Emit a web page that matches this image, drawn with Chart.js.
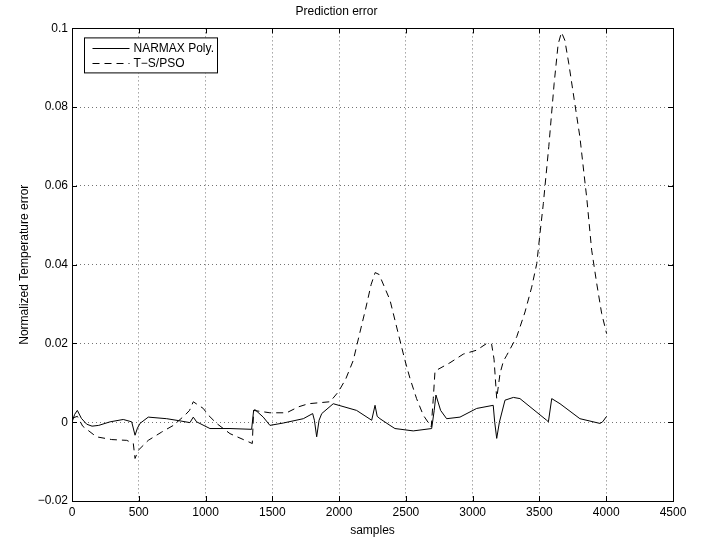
<!DOCTYPE html>
<html>
<head>
<meta charset="utf-8">
<script src="https://cdn.jsdelivr.net/npm/chart.js@4/dist/chart.umd.min.js"></script>
<style>
html, body { margin: 0; padding: 0; background: #fff; }
#wrap { width: 704px; height: 545px; }
</style>
</head>
<body>
<div id="wrap"><canvas id="chart"></canvas></div>
<script>
// tick values
const xTicks = [0, 500, 1000, 1500, 2000, 2500, 3000, 3500, 4000, 4500];
const yTicks = [-0.02, 0, 0.02, 0.04, 0.06, 0.08, 0.1];

// NARMAX Poly. (solid)
const narmaxX = [0, 20, 40, 70, 110, 150, 200, 285, 384, 447, 472, 490, 509, 571, 709, 800, 883, 908, 933,
  1033, 1183, 1345, 1360, 1370, 1432, 1482, 1582, 1732, 1802, 1815, 1832, 1850, 1870, 1956, 2131, 2244,
  2269, 2285, 2306, 2381, 2418, 2555, 2693, 2712, 2725, 2760, 2805, 2905, 3030, 3154, 3165, 3180, 3200,
  3242, 3305, 3354, 3554, 3567, 3592, 3654, 3803, 3953, 3973, 4003];
const narmaxY = [0, 0.002, 0.003, 0.001, -0.0005, -0.001, -0.0008, 0.0001, 0.0007, 0.0001, -0.0033, -0.0015,
  -0.0003, 0.0013, 0.0009, 0.0004, -0.0001, 0.0013, 0.0001, -0.0016, -0.0016, -0.0018, 0.003, 0.0032,
  0.0013, -0.0008, -0.0002, 0.0009, 0.0022, 0.0005, -0.0037, 0.0005, 0.0022, 0.0047, 0.003, 0.0005,
  0.0043, 0.0015, 0.0009, -0.0008, -0.0016, -0.0022, -0.0016, 0.003, 0.0069, 0.003, 0.0009, 0.0013,
  0.0035, 0.0043, 0, -0.0041, 0, 0.0056, 0.0063, 0.006, 0.0005, 0.0001, 0.006, 0.0047, 0.0009,
  -0.0003, 0.0001, 0.0015];

// T-S/PSO (dashed)
const tspsoX = [0, 40, 80, 183, 297, 410, 459, 472, 497, 571, 671, 759, 846, 880, 908, 983, 1021, 1083,
  1183, 1283, 1350, 1360, 1400, 1482, 1607, 1695, 1770, 1932, 1994, 2050, 2106, 2150, 2200, 2240, 2270,
  2300, 2381, 2443, 2493, 2531, 2580, 2630, 2690, 2705, 2718, 2830, 2930, 3030, 3105, 3142, 3160, 3180,
  3205, 3230, 3255, 3330, 3392, 3442, 3480, 3504, 3529, 3570, 3610, 3640, 3665, 3690, 3720, 3760,
  3803, 3828, 3854, 3891, 3929, 3966, 4003];
const tspsoY = [0.001, 0.0015, -0.001, -0.0037, -0.0044, -0.0046, -0.0054, -0.0092, -0.0071, -0.0046,
  -0.0025, -0.0008, 0.0018, 0.003, 0.0052, 0.0035, 0.0018, -0.0003, -0.0029, -0.0044, -0.0054, 0.003,
  0.0028, 0.0024, 0.0024, 0.0039, 0.0047, 0.0052, 0.0077, 0.011, 0.0157, 0.022, 0.029, 0.035, 0.038,
  0.0375, 0.031, 0.0225, 0.0157, 0.0111, 0.006, 0.0018, -0.0012, 0.006, 0.013, 0.0151, 0.0173, 0.0183,
  0.02, 0.0198, 0.016, 0.006, 0.0124, 0.0155, 0.017, 0.0217, 0.028, 0.0343, 0.0403, 0.0479, 0.0555,
  0.07, 0.086, 0.096, 0.099, 0.097, 0.091, 0.082, 0.0724, 0.0648, 0.057, 0.0437, 0.0352, 0.0276, 0.0225];

const FONT = 'Liberation Sans, Arial, Helvetica, sans-serif';

function toPoints(xs, ys) {
  return xs.map((x, i) => ({ x: x, y: ys[i] }));
}

function fmtY(v) {
  if (Math.abs(v) < 1e-9) return '0';
  const s = String(Math.round(v * 100) / 100);
  return s.replace('-', '\u2212');
}

// frame, inward ticks and legend box, drawn like the matlab axes
const axesBox = {
  id: 'axesBox',
  afterDatasetsDraw(chart) {
    const ctx = chart.ctx;
    const a = chart.chartArea;
    const xs = chart.scales.x, ys = chart.scales.y;
    ctx.save();
    ctx.strokeStyle = '#000';
    ctx.lineWidth = 1;
    ctx.setLineDash([]);
    ctx.strokeRect(Math.round(a.left) + 0.5, Math.round(a.top) + 0.5,
      Math.round(a.right - a.left), Math.round(a.bottom - a.top));
    const tl = 5;
    ctx.beginPath();
    xTicks.forEach(v => {
      const px = Math.round(xs.getPixelForValue(v)) + 0.5;
      ctx.moveTo(px, a.bottom); ctx.lineTo(px, a.bottom - tl);
      ctx.moveTo(px, a.top); ctx.lineTo(px, a.top + tl);
    });
    yTicks.forEach(v => {
      const py = Math.round(ys.getPixelForValue(v)) + 0.5;
      ctx.moveTo(a.left, py); ctx.lineTo(a.left + tl, py);
      ctx.moveTo(a.right, py); ctx.lineTo(a.right - tl, py);
    });
    ctx.stroke();

    // legend
    const items = chart.data.datasets;
    ctx.font = '12px ' + FONT;
    const textW = Math.max(...items.map(d => ctx.measureText(d.label).width));
    const bx = a.left + 12.5, by = a.top + 9.5;
    const lineW = 37, rowH = 15;
    const bw = Math.round(8 + lineW + 4 + textW + 4), bh = 35;
    ctx.fillStyle = '#fff';
    ctx.fillRect(bx, by, bw, bh);
    ctx.strokeRect(bx, by, bw, bh);
    items.forEach((d, i) => {
      const cy = Math.round(by + 10 + i * rowH) + 0.5;
      ctx.setLineDash(d.borderDash || []);
      ctx.beginPath();
      ctx.moveTo(bx + 8, cy); ctx.lineTo(bx + 8 + lineW, cy);
      ctx.stroke();
      ctx.setLineDash([]);
      ctx.fillStyle = '#000';
      ctx.textBaseline = 'middle';
      ctx.textAlign = 'left';
      ctx.fillText(d.label, bx + 8 + lineW + 4, cy);
    });
    ctx.restore();
  }
};

const ctx = document.getElementById('chart').getContext('2d');
const myChart = new Chart(ctx, {
  type: 'scatter',
  data: {
    datasets: [{
      label: 'NARMAX Poly.',
      data: toPoints(narmaxX, narmaxY),
      showLine: true,
      borderColor: '#000',
      borderWidth: 1,
      pointRadius: 0,
      tension: 0
    }, {
      label: 'T\u2212S/PSO',
      data: toPoints(tspsoX, tspsoY),
      showLine: true,
      borderColor: '#000',
      borderWidth: 1,
      borderDash: [7, 5],
      pointRadius: 0,
      tension: 0
    }]
  },
  options: {
    responsive: true,
    maintainAspectRatio: false,
    animation: false,
    layout: { padding: { left: 0, right: 31, top: 0, bottom: 0 } },
    plugins: {
      legend: { display: false },
      tooltip: { enabled: false },
      title: {
        display: true,
        text: 'Prediction error',
        color: '#000',
        font: { family: FONT, size: 12, weight: 'normal' },
        padding: { top: 4, bottom: 10 }
      }
    },
    scales: {
      x: {
        type: 'linear',
        min: 0,
        max: 4500,
        afterBuildTicks: s => { s.ticks = xTicks.map(v => ({ value: v })); },
        afterFit: s => { s.height = 44; },
        ticks: { color: '#000', font: { family: FONT, size: 12 }, padding: 4, maxRotation: 0,
          callback: v => String(v) },
        grid: { color: 'rgba(0,0,0,0.55)', lineWidth: 1, drawTicks: false },
        border: { display: false, dash: [1, 3] },
        title: {
          display: true,
          text: 'samples',
          color: '#000',
          font: { family: FONT, size: 12 },
          padding: { top: 0, bottom: 7 }
        }
      },
      y: {
        type: 'linear',
        min: -0.02,
        max: 0.1,
        afterBuildTicks: s => { s.ticks = yTicks.map(v => ({ value: v })); },
        afterFit: s => { s.width = 72; },
        ticks: { color: '#000', font: { family: FONT, size: 12 }, padding: 4, callback: v => fmtY(v) },
        grid: { color: 'rgba(0,0,0,0.55)', lineWidth: 1, drawTicks: false },
        border: { display: false, dash: [1, 3] },
        title: {
          display: true,
          text: 'Normalized Temperature error',
          color: '#000',
          font: { family: FONT, size: 12 },
          padding: { top: 17, bottom: 0 }
        }
      }
    }
  },
  plugins: [axesBox]
});
</script>
</body>
</html>
